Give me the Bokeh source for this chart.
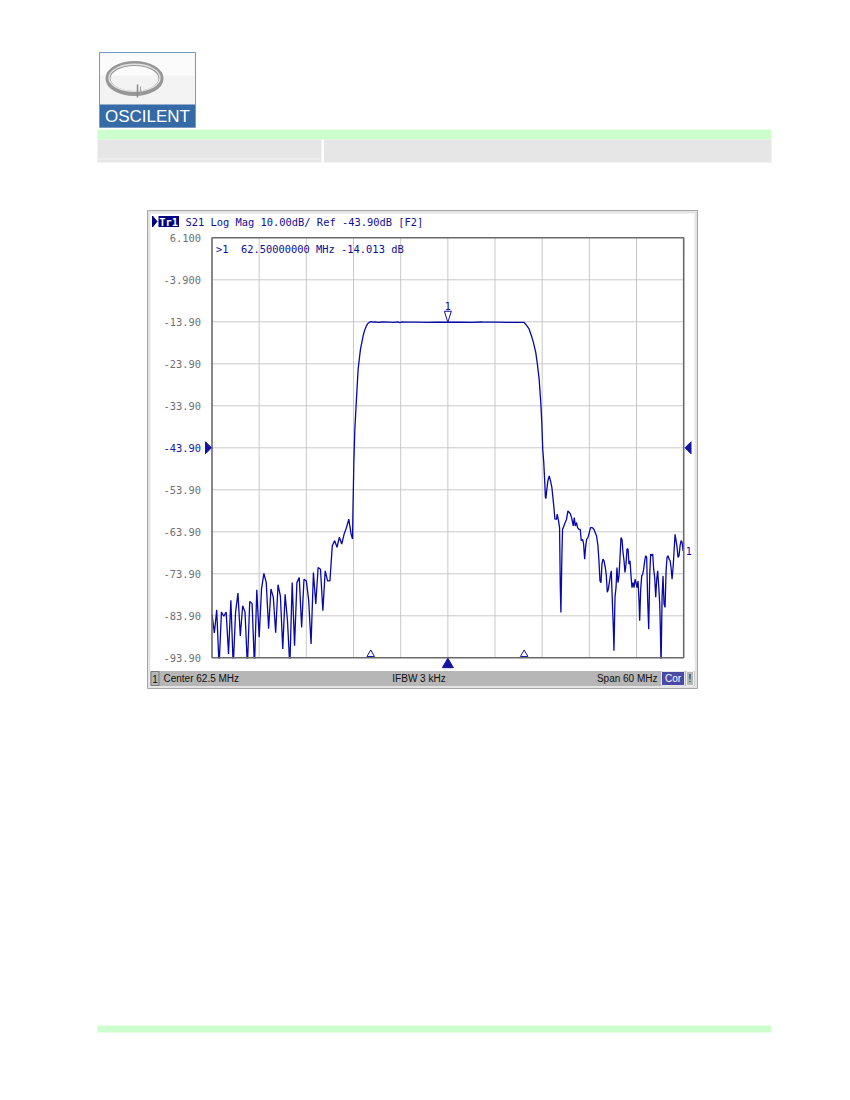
from bokeh.plotting import figure
from bokeh.models import Range1d, ColumnDataSource
from bokeh.core.properties import value
from bokeh.embed import file_html
from bokeh.resources import INLINE

# ---------------- data ----------------
center_mhz = 62.5
span_mhz = 60.0
ref_level_db = -43.90
scale_db_per_div = 10.0

freq_mhz = [
    32.5, 32.8, 33.1, 33.4, 33.7, 34.0, 34.3, 34.6, 34.9, 35.2,
    35.5, 35.8, 36.1, 36.4, 36.7, 37.0, 37.3, 37.6, 37.9, 38.2,
    38.5, 38.8, 39.1, 39.4, 39.7, 40.0, 40.3, 40.6, 40.9, 41.2,
    41.5, 41.8, 42.1, 42.4, 42.7, 43.0, 43.3, 43.6, 43.9, 44.2,
    44.5, 44.8, 45.1, 45.4, 45.7, 46.0, 46.3, 46.6, 46.9, 47.2,
    47.5, 47.8, 48.1, 48.4, 48.7, 49.0, 49.3, 49.6, 49.9, 50.2,
    50.38, 50.42, 50.54, 50.67, 50.84, 50.97, 51.09, 51.26, 51.39, 51.56,
    51.73, 51.90, 52.11, 52.32, 52.53, 52.75, 53.0, 53.3, 53.6, 54.2,
    55.0, 55.6, 56.1, 56.4, 56.7, 57.2, 58.5, 60.0, 61.0, 62.5,
    64.0, 65.5, 66.8, 67.0, 68.5, 70.0, 71.5, 72.20, 72.49, 72.83,
    73.13, 73.38, 73.68, 73.89, 74.11, 74.32, 74.45, 74.57, 74.70, 74.83,
    74.91, 74.97, 75.05, 75.22, 75.39, 75.56, 75.73, 75.86, 75.99, 76.12,
    76.33, 76.41, 76.58, 76.71, 76.80, 76.88, 77.01, 77.09, 77.26, 77.43,
    77.60, 77.77, 77.94, 78.11, 78.28, 78.45, 78.58, 78.71, 78.87, 79.00,
    79.17, 79.34, 79.47, 79.64, 79.77, 79.90, 80.02, 80.15, 80.32, 80.49,
    80.66, 80.87, 81.08, 81.25, 81.42, 81.59, 81.72, 81.85, 81.98, 82.10,
    82.23, 82.36, 82.53, 82.66, 82.78, 82.91, 83.04, 83.17, 83.29, 83.42,
    83.55, 83.63, 83.76, 83.89, 84.01, 84.14, 84.27, 84.40, 84.52, 84.65,
    84.78, 84.91, 85.03, 85.16, 85.29, 85.42, 85.54, 85.67, 85.80, 85.92,
    86.05, 86.18, 86.31, 86.43, 86.56, 86.69, 86.82, 86.90, 87.03, 87.16,
    87.28, 87.41, 87.54, 87.67, 87.79, 87.92, 88.05, 88.18, 88.30, 88.43,
    88.56, 88.68, 88.81, 88.94, 89.07, 89.19, 89.32, 89.45, 89.53, 89.62,
    89.75, 89.87, 90.00, 90.13, 90.26, 90.38, 90.51, 90.64, 90.77, 90.89,
    91.02, 91.15, 91.28, 91.40, 91.53, 91.66, 91.78, 91.91, 92.04, 92.17,
    92.29, 92.42, 92.50,
]

s21_db = [
    -83.5, -88.0, -82.5, -96.0, -83.0, -84.0, -83.0, -93.0, -80.2, -96.0,
    -83.0, -78.5, -88.7, -81.5, -83.0, -96.0, -80.5, -81.0, -96.0, -77.7,
    -89.0, -77.5, -73.8, -76.0, -87.0, -77.5, -79.5, -87.9, -76.5, -79.2,
    -91.8, -78.8, -85.1, -96.0, -76.0, -91.0, -76.0, -74.8, -86.7, -75.2,
    -75.6, -80.3, -90.6, -73.6, -81.1, -72.4, -72.8, -82.7, -73.2, -75.6,
    -75.6, -67.2, -66.0, -67.6, -65.2, -66.8, -64.5, -62.9, -60.9, -64.5,
    -65.6, -59.7, -47.8, -39.5, -33.5, -29.1, -25.2, -22.4, -20.4, -18.8,
    -17.2, -16.0, -15.0, -14.3, -14.0, -13.85, -14.0, -13.9, -14.05, -13.95,
    -14.0, -14.05, -13.9, -14.1, -13.9, -14.0, -14.0, -14.05, -14.0, -14.013,
    -14.0, -14.03, -13.95, -14.0, -14.0, -14.02, -14.05, -14.06, -14.7, -15.6,
    -17.2, -18.8, -21.2, -24.0, -27.5, -33.1, -37.9, -44.2, -47.4, -52.1,
    -55.7, -56.0, -54.5, -51.8, -50.6, -51.8, -53.3, -55.7, -58.1, -60.9,
    -60.9, -59.7, -61.3, -62.9, -76.8, -83.1, -69.2, -63.3, -62.5, -61.7,
    -60.9, -58.9, -59.3, -59.7, -60.9, -62.5, -60.5, -62.5, -61.7, -62.9,
    -63.3, -63.3, -66.0, -65.7, -66.8, -70.4, -67.6, -65.7, -65.3, -64.1,
    -62.9, -62.9, -63.3, -64.1, -64.9, -67.2, -70.8, -75.6, -76.0, -71.6,
    -70.4, -70.8, -72.4, -74.4, -78.3, -77.6, -76.0, -74.4, -73.2, -80.3,
    -86.7, -92.2, -79.5, -77.2, -72.4, -76.0, -74.4, -70.0, -65.3, -65.7,
    -68.8, -70.8, -73.6, -71.6, -68.0, -68.0, -71.6, -70.8, -74.4, -77.2,
    -76.0, -77.2, -75.2, -76.0, -77.2, -75.6, -80.3, -85.1, -77.6, -74.4,
    -74.0, -72.8, -70.8, -69.6, -70.0, -80.3, -87.1, -74.0, -69.2, -69.6,
    -69.2, -72.8, -74.8, -79.5, -75.2, -73.2, -76.8, -81.1, -86.7, -96.0,
    -79.5, -74.4, -81.1, -81.9, -73.2, -70.0, -69.6, -70.4, -70.8, -72.4,
    -75.2, -72.4, -68.4, -64.5, -66.0, -67.6, -70.0, -69.6, -67.2, -66.0,
    -66.4, -68.4, -68.4,
]

y_tick_db = [6.1, -3.9, -13.9, -23.9, -33.9, -43.9, -53.9, -63.9, -73.9, -83.9, -93.9]
y_tick_labels = ["6.100", "-3.900", "-13.90", "-23.90", "-33.90", "-43.90",
                 "-53.90", "-63.90", "-73.90", "-83.90", "-93.90"]

marker1_mhz = 62.5
marker1_db = -14.013
bw_marker_mhz = [52.69, 72.21]

trace_name = "Tr1"
title_text = "S21 Log Mag 10.00dB/ Ref -43.90dB [F2]"
marker_tag = ">1"
marker_readout = "62.50000000 MHz -14.013 dB"
status_channel = "1"
status_left = "Center 62.5 MHz"
status_mid = "IFBW 3 kHz"
status_right = "Span 60 MHz"
status_cor = "Cor"
status_warn = "!"
logo_text = "OSCILENT"

# ---------------- layout geometry (page pixels) ----------------
W, H = 848, 1096
OFF = 0
GX0, GX1, GY0, GY1 = 211.5, 683.2, 237.3, 657.3

f_start = center_mhz - span_mhz / 2
f_stop = center_mhz + span_mhz / 2
db_top = ref_level_db + 5 * scale_db_per_div
db_bot = ref_level_db - 5 * scale_db_per_div
ppm = (GX1 - GX0) / span_mhz              # px per MHz
ppd = (GY1 - GY0) / (10 * scale_db_per_div)  # px per dB

x_range = Range1d(f_start - (GX0 - OFF) / ppm, f_stop + (OFF + W - GX1) / ppm)
y_range = Range1d(db_bot - (OFF + H - GY1) / ppd, db_top + (GY0 - OFF) / ppd)

p = figure(width=W, height=H, x_range=x_range, y_range=y_range,
           toolbar_location=None, output_backend="svg", title=None,
           x_axis_location=None, y_axis_location=None, min_border=0)
p.extra_x_ranges = {"px": Range1d(OFF, OFF + W)}
p.extra_y_ranges = {"py": Range1d(OFF + H, OFF)}
p.grid.grid_line_color = None
p.outline_line_color = None
p.background_fill_color = "white"
p.border_fill_color = "white"

PX = dict(x_range_name="px", y_range_name="py")
VNA_BLUE = "#0E0E96"
MONO = value("DejaVu Sans Mono")
MONO_SZ = value("10.4px")
SANS = value("Liberation Sans")

# ---------------- document header ----------------
p.quad(left=[99], right=[195], top=[52], bottom=[127], fill_color="#F3F3F3",
       line_color="#7B99BE", line_width=1, **PX)
p.quad(left=[100], right=[194], top=[53], bottom=[75], fill_color="#FBFBFB",
       line_color=None, **PX)
p.quad(left=[99.5], right=[194.5], top=[104], bottom=[126.5], fill_color="#346AA5",
       line_color=None, **PX)
p.ellipse(x=[134], y=[78], width=[53], height=[30], width_units="screen",
          height_units="screen", fill_color=None, line_color="#979797", line_width=5, **PX)
p.ellipse(x=[134], y=[77.3], width=[51], height=[27], width_units="screen",
          height_units="screen", fill_color=None, line_color="#E2E2E2", line_width=1.4, **PX)
p.segment(x0=[137], y0=[84], x1=[137], y1=[97], line_color="#8C8C8C", line_width=1.5, **PX)
p.segment(x0=[140], y0=[86], x1=[140], y1=[94], line_color="#A8A8A8", line_width=1.2, **PX)
p.text(x=[147], y=[116], text=[logo_text], text_font=SANS, text_font_size=value("17px"),
       text_color="white", text_align="center", text_baseline="middle", **PX)

p.quad(left=[97], right=[771], top=[129], bottom=[139], fill_color="#CCFFCC",
       line_color=None, **PX)
p.quad(left=[97], right=[771], top=[139], bottom=[162], fill_color="#E6E6E6",
       line_color=None, **PX)
p.quad(left=[321], right=[323.5], top=[139], bottom=[162], fill_color="white",
       line_color=None, **PX)
p.segment(x0=[97], y0=[158.5], x1=[320], y1=[158.5], line_color="#F4F4F4", line_width=1, **PX)
p.quad(left=[97], right=[771], top=[1025], bottom=[1032], fill_color="#CCFFCC",
       line_color=None, **PX)

# ---------------- analyzer window ----------------
p.quad(left=[147], right=[697], top=[210], bottom=[688], fill_color="#E4E4E4",
       line_color="#A6A6A6", line_width=1, **PX)
p.quad(left=[150], right=[694], top=[213], bottom=[670.5], fill_color="white",
       line_color=None, **PX)

# grid (divisions derived from start/stop and ref/scale)
vgrid = [f_start + k * span_mhz / 10 for k in range(1, 10)]
hgrid = [db_bot + k * scale_db_per_div for k in range(1, 10)]
p.segment(x0=vgrid, y0=[db_bot] * 9, x1=vgrid, y1=[db_top] * 9,
          line_color="#C9C9C9", line_width=1)
p.segment(x0=[f_start] * 9, y0=hgrid, x1=[f_stop] * 9, y1=hgrid,
          line_color="#C9C9C9", line_width=1)

# trace
src = ColumnDataSource(dict(freq=freq_mhz, db=s21_db))
p.line(x="freq", y="db", source=src, line_color="#0808A8", line_width=1.3)

# mask below the graticule (trace is cut at the bottom of the grid)
p.quad(left=[150], right=[694], top=[GY1 + 0.6], bottom=[670.5], fill_color="white",
       line_color=None, **PX)

# graticule frame
p.quad(left=[f_start], right=[f_stop], top=[db_top], bottom=[db_bot], fill_color=None,
       line_color="#6A6A6A", line_width=1.6)

# y tick labels
tick_colors = ["#1414A0" if abs(t - ref_level_db) < 1e-6 else "#707070" for t in y_tick_db]
p.text(x=[200.5] * len(y_tick_db), y=y_tick_db, text=y_tick_labels, text_color=tick_colors,
       text_font=MONO, text_font_size=MONO_SZ, text_align="right", text_baseline="middle",
       x_range_name="px")

# reference level arrows
p.patch(x=[205, 205, 211], y=[ref_level_db + 6 / ppd, ref_level_db - 6 / ppd, ref_level_db],
        fill_color="#1414A0", line_color="#1414A0", x_range_name="px")
p.patch(x=[690.5, 690.5, 684.5], y=[ref_level_db + 6 / ppd, ref_level_db - 6 / ppd, ref_level_db],
        fill_color="#1414A0", line_color="#1414A0", x_range_name="px")

# title line
p.patch(x=[152, 152, 156.5], y=[215.5, 226.5, 221], fill_color="#000080",
        line_color="#000080", **PX)
p.quad(left=[158], right=[178.5], top=[215.5], bottom=[226.5], fill_color="#000080",
       line_color=None, **PX)
p.text(x=[168.2], y=[221.3], text=[trace_name], text_color="white", text_font=MONO,
       text_font_size=MONO_SZ, text_font_style="bold", text_align="center",
       text_baseline="middle", **PX)
p.text(x=[185], y=[221.3], text=[title_text], text_color=VNA_BLUE, text_font=MONO,
       text_font_size=MONO_SZ, text_align="left", text_baseline="middle", **PX)

# marker readout
p.text(x=[215.5], y=[248], text=[marker_tag], text_color=VNA_BLUE, text_font=MONO,
       text_font_size=MONO_SZ, text_align="left", text_baseline="middle", **PX)
p.text(x=[240.5], y=[248], text=[marker_readout], text_color=VNA_BLUE, text_font=MONO,
       text_font_size=MONO_SZ, text_align="left", text_baseline="middle", **PX)

# marker 1 on the trace
p.patch(x=[marker1_mhz - 3.5 / ppm, marker1_mhz + 3.5 / ppm, marker1_mhz],
        y=[marker1_db + 11 / ppd, marker1_db + 11 / ppd, marker1_db],
        fill_color="white", line_color="#1414A0", line_width=1)
p.text(x=[marker1_mhz], y=[marker1_db], text=["1"], y_offset=-16, text_color=VNA_BLUE,
       text_font=MONO, text_font_size=value("10px"), text_align="center",
       text_baseline="middle")

# trace end label
p.text(x=[f_stop], y=[s21_db[-1]], text=["1"], x_offset=2, text_color=VNA_BLUE,
       text_font=MONO, text_font_size=value("10px"), text_align="left",
       text_baseline="middle")

# bottom markers
p.scatter(x=bw_marker_mhz, y=[653.8] * len(bw_marker_mhz), marker="triangle", size=7.5,
          fill_color="white", line_color="#1414A0", line_width=1, y_range_name="py")
p.scatter(x=[center_mhz], y=[664], marker="triangle", size=11, fill_color="#1414A0",
          line_color="#1414A0", y_range_name="py")

# status bar
p.quad(left=[150], right=[694], top=[670.5], bottom=[685.5], fill_color="#B6B6B6",
       line_color=None, **PX)
p.quad(left=[150.5], right=[158.5], top=[671], bottom=[685], fill_color="#B6B6B6",
       line_color="#7A7A7A", line_width=1, **PX)
p.quad(left=[661], right=[684], top=[671], bottom=[685], fill_color="#4A4AA6",
       line_color="#E6E6E6", line_width=1, **PX)
p.quad(left=[686], right=[693], top=[671], bottom=[685], fill_color="#B6B6B6",
       line_color="#F2F2F2", line_width=1, **PX)
p.text(x=[154.5], y=[678.3], text=[status_channel], text_color="#101010", text_font=SANS,
       text_font_size=value("10px"), text_align="center", text_baseline="middle", **PX)
p.text(x=[163], y=[678.3], text=[status_left], text_color="#101010", text_font=SANS,
       text_font_size=value("10px"), text_align="left", text_baseline="middle", **PX)
p.text(x=[418.5], y=[678.3], text=[status_mid], text_color="#101010", text_font=SANS,
       text_font_size=value("10px"), text_align="center", text_baseline="middle", **PX)
p.text(x=[657], y=[678.3], text=[status_right], text_color="#101010", text_font=SANS,
       text_font_size=value("10px"), text_align="right", text_baseline="middle", **PX)
p.text(x=[672.5], y=[678.3], text=[status_cor], text_color="white", text_font=SANS,
       text_font_size=value("10px"), text_align="center", text_baseline="middle", **PX)
p.text(x=[689.5], y=[678.3], text=[status_warn], text_color="#101010", text_font=SANS,
       text_font_size=value("10px"), text_align="center", text_baseline="middle", **PX)

open("out.html", "w").write(file_html(p, INLINE))
